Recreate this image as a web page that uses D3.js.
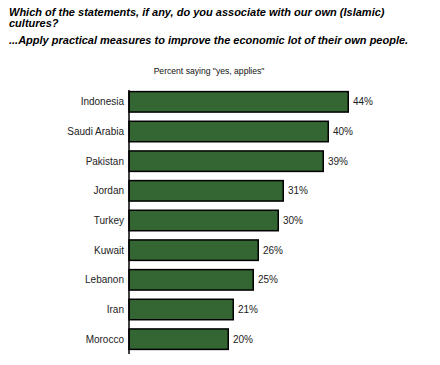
<!DOCTYPE html>
<html>
<head>
<meta charset="utf-8">
<script src="https://cdn.jsdelivr.net/npm/d3@7"></script>
<style>
  body { margin: 0; background: #fff; }
  text { font-family: "Liberation Sans", Arial, sans-serif; }
</style>
</head>
<body>
<svg width="440" height="365"></svg>
<script>
const countries = ["Indonesia", "Saudi Arabia", "Pakistan", "Jordan", "Turkey", "Kuwait", "Lebanon", "Iran", "Morocco"];
const values = [44, 40, 39, 31, 30, 26, 25, 21, 20];
const titleLines = [
  "Which of the statements, if any, do you associate with our own (Islamic)",
  "cultures?"
];
const subtitle = "...Apply practical measures to improve the economic lot of their own people.";
const axisTitle = "Percent saying \"yes, applies\"";

const svg = d3.select("svg");

// titles
svg.selectAll(".title")
  .data(titleLines)
  .enter()
  .append("text")
  .attr("class", "title")
  .attr("x", 9)
  .attr("y", (d, i) => 16 + i * 11)
  .attr("font-size", 11)
  .attr("font-weight", "bold")
  .attr("font-style", "italic")
  .text(d => d);

svg.append("text")
  .attr("x", 9)
  .attr("y", 44)
  .attr("font-size", 11)
  .attr("font-weight", "bold")
  .attr("font-style", "italic")
  .text(subtitle);

svg.append("text")
  .attr("x", 209)
  .attr("y", 74)
  .attr("text-anchor", "middle")
  .attr("font-size", 8.6)
  .attr("fill", "#111")
  .text(axisTitle);

const x = d3.scaleLinear().domain([0, 44]).range([129, 349]);
const y = d3.scaleBand().domain(countries).range([87, 354]).paddingInner(0.26).paddingOuter(0.13);

const data = countries.map((c, i) => ({ country: c, value: values[i] }));

svg.selectAll(".bar")
  .data(data)
  .enter()
  .append("rect")
  .attr("class", "bar")
  .attr("x", x(0))
  .attr("y", d => y(d.country) + 0.75)
  .attr("width", d => x(d.value) - x(0) - 0.75)
  .attr("height", y.bandwidth() - 1.5)
  .attr("fill", "#336633")
  .attr("stroke", "#000")
  .attr("stroke-width", 1.5);

// axis line
svg.append("line")
  .attr("x1", x(0)).attr("x2", x(0))
  .attr("y1", 90).attr("y2", 354)
  .attr("stroke", "#000")
  .attr("stroke-width", 1.5);

svg.selectAll(".cat")
  .data(data)
  .enter()
  .append("text")
  .attr("class", "cat")
  .attr("x", 124)
  .attr("y", d => y(d.country) + y.bandwidth() / 2 + 3.5)
  .attr("text-anchor", "end")
  .attr("font-size", 10)
  .attr("fill", "#222")
  .text(d => d.country);

svg.selectAll(".val")
  .data(data)
  .enter()
  .append("text")
  .attr("class", "val")
  .attr("x", d => x(d.value) + 4)
  .attr("y", d => y(d.country) + y.bandwidth() / 2 + 3.5)
  .attr("font-size", 10)
  .attr("fill", "#222")
  .text(d => d.value + "%");
</script>
</body>
</html>
